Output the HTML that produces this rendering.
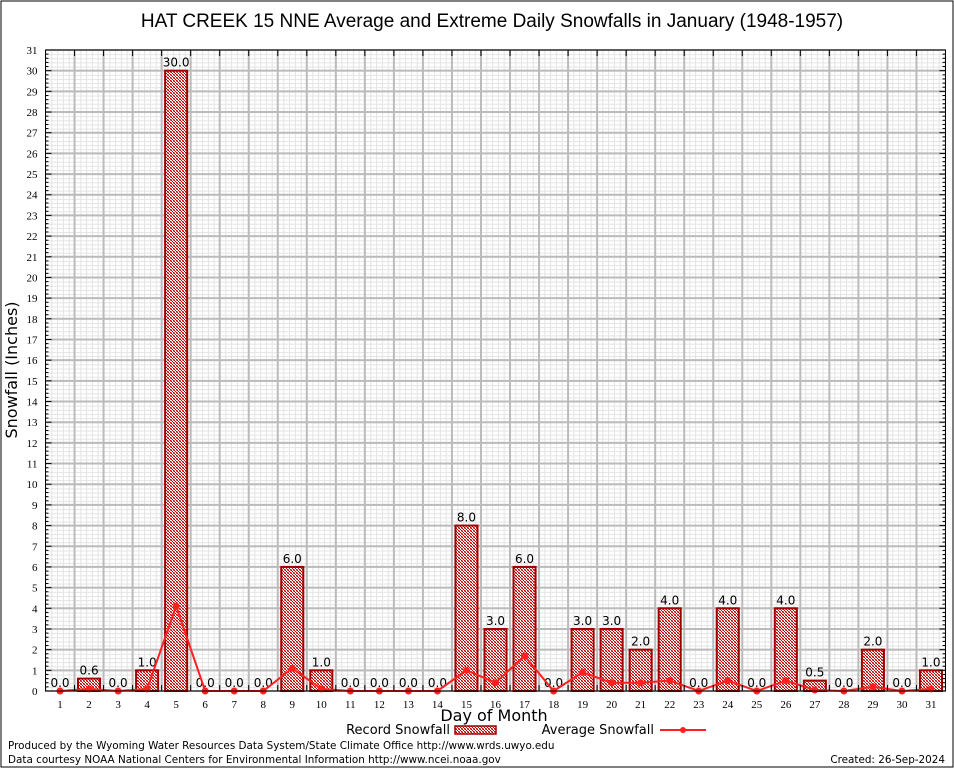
<!DOCTYPE html>
<html><head><meta charset="utf-8"><style>
html,body{margin:0;padding:0;background:#fff}
svg{display:block;font-family:"DejaVu Sans","Liberation Sans",sans-serif}
</style></head><body>
<svg id="chart" width="954" height="768" xmlns="http://www.w3.org/2000/svg">
<defs>
<pattern id="hatch" width="3" height="3" patternUnits="userSpaceOnUse"><rect width="3" height="3" fill="#fff"/><rect width="1" height="1" fill="#b00000"/><rect x="1" y="1" width="1" height="1" fill="#c00000"/><rect x="2" y="2" width="1" height="1" fill="#c00000"/><rect x="2" y="0" width="1" height="1" fill="#e07070"/><rect x="0" y="2" width="1" height="1" fill="#e07070"/></pattern>
<pattern id="minor" width="5.8" height="4.136" patternUnits="userSpaceOnUse" x="45.5" y="50"><rect width="5.8" height="4.136" fill="#fff"/><rect x="0" y="0" width="5.8" height="1" fill="#e4e4e4"/><rect x="0" y="0" width="1" height="4.136" fill="#e4e4e4"/></pattern>
</defs>
<rect x="1" y="1" width="952" height="766" fill="#fff" stroke="#000" stroke-width="1"/>
<text x="492" y="27" font-size="19" text-anchor="middle" font-family="Liberation Sans, sans-serif">HAT CREEK 15 NNE Average and Extreme Daily Snowfalls in January (1948-1957)</text>
<rect x="45.5" y="50" width="900" height="641" fill="url(#minor)"/>
<g id="grid"></g>
<g id="bars"></g>
<g id="avg"></g>
<g id="axes"></g>
<text transform="translate(17,370) rotate(-90)" font-size="16" text-anchor="middle">Snowfall (Inches)</text>
<text x="494" y="721" font-size="16" text-anchor="middle">Day of Month</text>
<g>
<text x="450" y="734" font-size="13" text-anchor="end">Record Snowfall</text>
<rect x="455" y="726" width="41" height="8" fill="url(#hatch)" stroke="#a00000" stroke-width="1.5"/>
</g>
<g>
<text x="654" y="734" font-size="13" text-anchor="end">Average Snowfall</text>
<line x1="660" y1="730" x2="706" y2="730" stroke="#ff2020" stroke-width="2"/>
<circle cx="683" cy="730" r="3" fill="#ff2020"/>
</g>
<text x="8" y="749" font-size="10.4">Produced by the Wyoming Water Resources Data System/State Climate Office http://www.wrds.uwyo.edu</text>
<text x="8" y="763" font-size="10.4">Data courtesy NOAA National Centers for Environmental Information http://www.ncei.noaa.gov</text>
<text x="945" y="763" font-size="10.4" text-anchor="end">Created: 26-Sep-2024</text>
</svg>
<script>
const days = [1,2,3,4,5,6,7,8,9,10,11,12,13,14,15,16,17,18,19,20,21,22,23,24,25,26,27,28,29,30,31];
const recordSnow = [0,0.6,0,1,30,0,0,0,6,1,0,0,0,0,8,3,6,0,3,3,2,4,0,4,0,4,0.5,0,2,0,1];
const avgSnow = [0,0.1,0,0.1,4.1,0,0,0,1.1,0.1,0,0,0,0,1.0,0.4,1.7,0,0.9,0.4,0.4,0.5,0,0.5,0,0.5,0.05,0,0.2,0,0.1];
const yTicks = [0,1,2,3,4,5,6,7,8,9,10,11,12,13,14,15,16,17,18,19,20,21,22,23,24,25,26,27,28,29,30,31];

const NS='http://www.w3.org/2000/svg';
const L=45.5,R=945.5,T=50,B=691,YMAX=31;
const slot=(R-L)/days.length;
const xC=d=>L+(d-0.5)*slot;
const yS=v=>B-(v/YMAX)*(B-T);
function mk(tag,attrs,parent,txt){const e=document.createElementNS(NS,tag);for(const k in attrs)e.setAttribute(k,attrs[k]);if(txt!==undefined)e.textContent=txt;parent.appendChild(e);return e;}
const grid=document.getElementById('grid'),bars=document.getElementById('bars'),avg=document.getElementById('avg'),axes=document.getElementById('axes');

yTicks.forEach(t=>{
  const l=mk('line',{x1:L,x2:R,y1:yS(t),y2:yS(t),stroke:'#bbb','stroke-width':2},grid);
  
  
  const tx=mk('text',{x:L-8,y:yS(t)+4,'font-size':11,'text-anchor':'end','font-family':'Liberation Serif, serif'},axes,String(t));
  
  
  mk('line',{x1:L,x2:L+6,y1:yS(t),y2:yS(t),stroke:'#000'},axes);
  mk('line',{x1:R,x2:R-6,y1:yS(t),y2:yS(t),stroke:'#000'},axes);
  if(t<YMAX){for(let m=1;m<5;m++){const yy=yS(t+m/5);mk('line',{x1:L,x2:L+3,y1:yy,y2:yy,stroke:'#000'},axes);mk('line',{x1:R,x2:R-3,y1:yy,y2:yy,stroke:'#000'},axes);}}
});
for(let i=1;i<days.length;i++){
  const x=L+i*slot;
  const l=mk('line',{x1:x,x2:x,y1:T,y2:B,stroke:'#bbb','stroke-width':2},grid);
  
  
  mk('line',{x1:x,x2:x,y1:B,y2:B-6,stroke:'#000'},axes);
  mk('line',{x1:x,x2:x,y1:T,y2:T+6,stroke:'#000'},axes);
}
days.forEach((d,i)=>{
  const v=recordSnow[i],x=xC(d),w=slot*0.76;
  if(v>0){
    const r=mk('rect',{x:x-w/2,y:yS(v),width:w,height:B-yS(v),fill:'url(#hatch)',stroke:'#a00000','stroke-width':2},bars);
    
    
  }
  const lb=mk('text',{x:x,y:yS(v)-4,'font-size':12,'text-anchor':'middle'},bars,v.toFixed(1));
  
  
  const tl=mk('text',{x:x,y:B+17,'font-size':11,'text-anchor':'middle','font-family':'Liberation Serif, serif'},axes,String(d));
  
  
});
const pts=days.map((d,i)=>xC(d)+','+yS(avgSnow[i])).join(' ');
const pl=mk('polyline',{points:pts,fill:'none',stroke:'#ff2020','stroke-width':2},avg);


days.forEach((d,i)=>{
  const c=mk('circle',{cx:xC(d),cy:yS(avgSnow[i]),r:3.5,fill:'#ff2020'},avg);
  
  
});
const fr=mk('rect',{x:L,y:T,width:R-L,height:B-T,fill:'none',stroke:'#000','stroke-width':1},axes);


</script>
</body></html>
